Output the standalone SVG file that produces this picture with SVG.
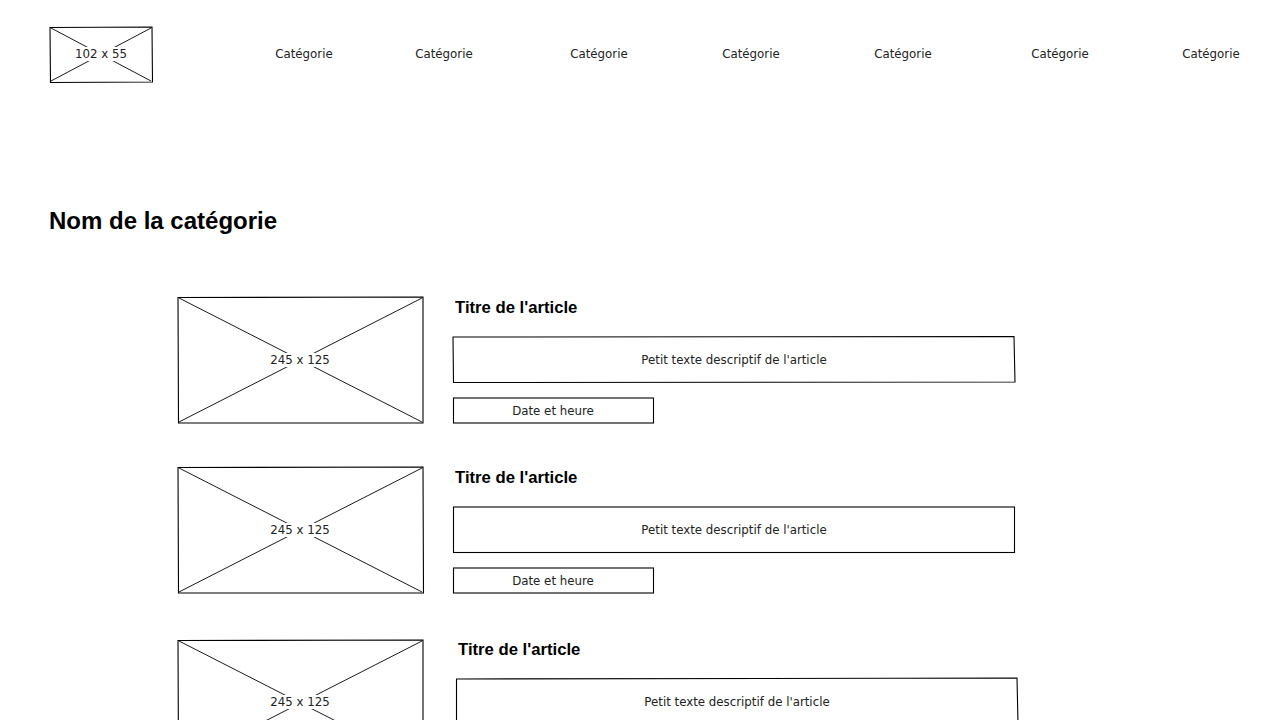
<svg xmlns="http://www.w3.org/2000/svg" width="1280" height="720" viewBox="0 0 1280 720">
  <style>
    .frame { fill: #ffffff; stroke: #000000; stroke-width: 1.1; }
    .cross { fill: none; stroke: #000000; stroke-width: 0.9; }
    .hand { font-family: "DejaVu Sans", "Liberation Sans", sans-serif; font-size: 11.8px; fill: #222222; text-anchor: middle; dominant-baseline: central; }
    .label-bg { fill: #ffffff; }
    .title { font-family: "Liberation Sans", Arial, sans-serif; font-weight: bold; font-size: 16.7px; fill: #000000; }
    .heading { font-family: "Liberation Sans", Arial, sans-serif; font-weight: bold; font-size: 24px; fill: #000000; }
  </style>

  <rect width="1280" height="720" fill="#ffffff"/>

  <!-- header logo placeholder -->
  <g id="logo">
    <path class="frame" d="M50 27.5 L152 27 L152.5 82 L50.5 82.5 Z"/>
    <path class="cross" d="M51 28 L151 81 M151 28 L51 81"/>
    <rect class="label-bg" x="75" y="47" width="52" height="14"/>
    <text class="hand" x="101" y="53.5">102 x 55</text>
  </g>

  <!-- navigation -->
  <g id="nav">
    <text class="hand" x="304" y="53.5">Catégorie</text>
    <text class="hand" x="444" y="53.5">Catégorie</text>
    <text class="hand" x="599" y="53.5">Catégorie</text>
    <text class="hand" x="751" y="53.5">Catégorie</text>
    <text class="hand" x="903" y="53.5">Catégorie</text>
    <text class="hand" x="1060" y="53.5">Catégorie</text>
    <text class="hand" x="1211" y="53.5">Catégorie</text>
  </g>

  <g id="category-heading">
    <text class="heading" x="49" y="229">Nom de la catégorie</text>
  </g>

  <!-- article 1 -->
  <g id="article-1">
    <path class="frame" d="M178 297.5 L423 297 L423 423 L178.5 423 Z"/>
    <path class="cross" d="M179 298 L422 422 M422 298 L179 422"/>
    <rect class="label-bg" x="271" y="353" width="60" height="14"/>
    <text class="hand" x="300" y="359.5">245 x 125</text>
    <text class="title" x="455" y="313">Titre de l'article</text>
    <path class="frame" d="M453 337 L1014 336.5 L1015 382 L453.5 382.5 Z"/>
    <text class="hand" x="734" y="359.5">Petit texte descriptif de l'article</text>
    <rect class="frame" x="453.5" y="398" width="200" height="25"/>
    <text class="hand" x="553" y="410.5">Date et heure</text>
  </g>

  <!-- article 2 -->
  <g id="article-2">
    <path class="frame" d="M178 467.5 L423 467 L423.5 593 L178.5 593 Z"/>
    <path class="cross" d="M179 468 L422 592 M422 468 L179 592"/>
    <rect class="label-bg" x="271" y="523" width="60" height="14"/>
    <text class="hand" x="300" y="529.5">245 x 125</text>
    <text class="title" x="455" y="483">Titre de l'article</text>
    <rect class="frame" x="453.5" y="507" width="561" height="45.5"/>
    <text class="hand" x="734" y="529.5">Petit texte descriptif de l'article</text>
    <rect class="frame" x="453.5" y="568" width="200" height="25"/>
    <text class="hand" x="553" y="580.5">Date et heure</text>
  </g>

  <!-- article 3 -->
  <g id="article-3">
    <path class="frame" d="M178 640.5 L423 640 L423 766 L178.5 766 Z"/>
    <path class="cross" d="M179 641 L422 765 M422 641 L179 765"/>
    <rect class="label-bg" x="271" y="695" width="60" height="14"/>
    <text class="hand" x="300" y="701.5">245 x 125</text>
    <text class="title" x="458" y="655">Titre de l'article</text>
    <path class="frame" d="M456.5 679 L1017 678 L1018 724 L456.5 724 Z"/>
    <text class="hand" x="737" y="701.5">Petit texte descriptif de l'article</text>
  </g>

  <!-- no connectors in this wireframe -->
  <g id="connectors"/>
</svg>
